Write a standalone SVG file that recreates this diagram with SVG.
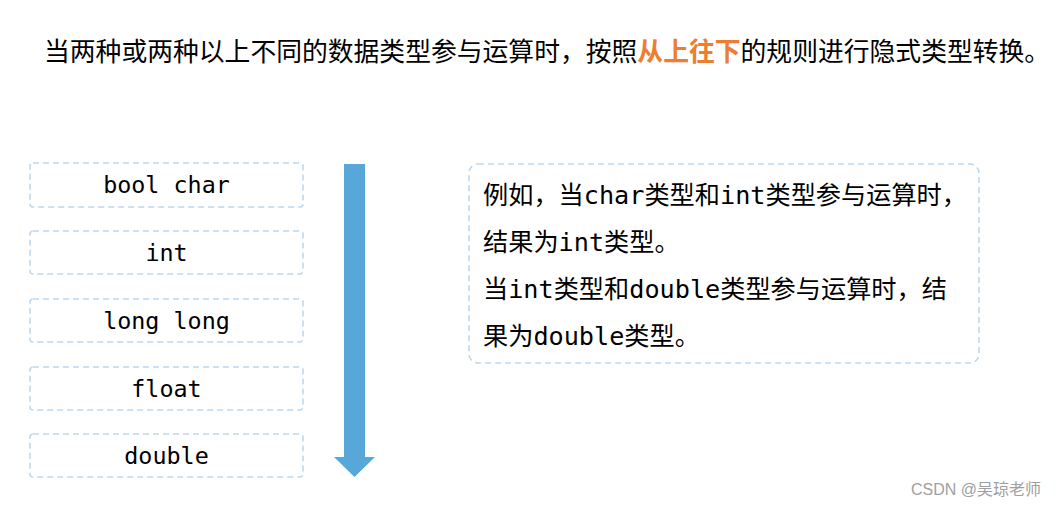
<svg xmlns="http://www.w3.org/2000/svg" width="1057" height="507" viewBox="0 0 1057 507">
<style>
.box{fill:#fff;stroke:#bdd7ee;stroke-width:1.6;stroke-dasharray:6 4}
.mono{font-family:"DejaVu Sans Mono","Liberation Mono","Noto Sans CJK SC",monospace;fill:#000}
.cjk{font-family:"Noto Sans CJK SC","Noto Sans",sans-serif;fill:#000}
</style>
<rect width="1057" height="507" fill="#fff"/>
<text class="cjk" x="44" y="61" font-size="25.8">当两种或两种以上不同的数据类型参与运算时，按照<tspan fill="#ed7d31" font-weight="bold">从上往下</tspan>的规则进行隐式类型转换。</text>
<g id="node-bool-char"><rect class="box" x="30" y="163" width="273" height="44" rx="3"/><text class="mono" x="166.5" y="193" font-size="23.4" text-anchor="middle">bool char</text></g>
<g id="node-int"><rect class="box" x="30" y="231" width="273" height="43" rx="3"/><text class="mono" x="166.5" y="261" font-size="23.4" text-anchor="middle">int</text></g>
<g id="node-long-long"><rect class="box" x="30" y="299" width="273" height="43" rx="3"/><text class="mono" x="166.5" y="329" font-size="23.4" text-anchor="middle">long long</text></g>
<g id="node-float"><rect class="box" x="30" y="367" width="273" height="43" rx="3"/><text class="mono" x="166.5" y="397" font-size="23.4" text-anchor="middle">float</text></g>
<g id="node-double"><rect class="box" x="30" y="434" width="273" height="43" rx="3"/><text class="mono" x="166.5" y="464" font-size="23.4" text-anchor="middle">double</text></g>
<g id="connectors"><polygon points="344,164 365,164 365,457 375,457 354.5,477 334,457 344,457" fill="#57a7d8"/></g>
<g id="node-example"><rect class="box" x="469" y="164" width="510" height="199" rx="9"/>
<text class="mono" font-size="25.2"><tspan x="483" y="204">例如，当char类型和int类型参与运算时，</tspan><tspan x="483" y="251">结果为int类型。</tspan><tspan x="483" y="298">当int类型和double类型参与运算时，结</tspan><tspan x="483" y="345">果为double类型。</tspan></text></g>
<text x="1041" y="495" font-family="'Liberation Sans','Noto Sans CJK SC',sans-serif" font-size="16" fill="#a0a0a0" text-anchor="end">CSDN @吴琼老师</text>
</svg>
